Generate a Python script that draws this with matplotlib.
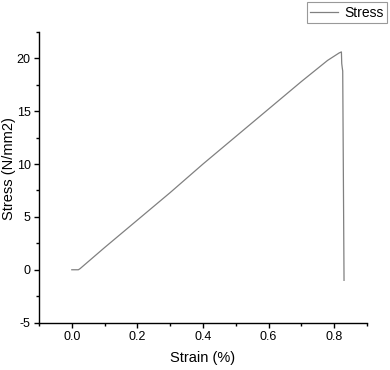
import matplotlib
matplotlib.use("Agg")
import matplotlib.pyplot as plt
from matplotlib.ticker import MultipleLocator

strain = [0.0, 0.01, 0.02, 0.025, 0.1, 0.2, 0.3, 0.4, 0.5, 0.6, 0.7, 0.78, 0.815, 0.822, 0.823, 0.825, 0.826, 0.83]
stress = [0.0, 0.0, 0.0, 0.1, 2.1, 4.7, 7.3, 10.0, 12.6, 15.2, 17.8, 19.8, 20.5, 20.6, 19.5, 19.0, 18.8, -1.0]
xticks = [0.0, 0.2, 0.4, 0.6, 0.8]
xticklabels = ['0.0', '0.2', '0.4', '0.6', '0.8']
yticks = [-5, 0, 5, 10, 15, 20]
yticklabels = ['-5', '0', '5', '10', '15', '20']

plt.rcParams['font.family'] = ['Liberation Sans', 'DejaVu Sans']
fig = plt.figure(figsize=(3.9, 3.7), dpi=100)
ax = fig.add_axes([0.1, 0.128, 0.841, 0.786])
ax.plot(strain, stress, color='#808080', lw=0.9, label='Stress')
ax.set_xlim(-0.1, 0.9)
ax.set_ylim(-5, 22.5)
ax.xaxis.set_minor_locator(MultipleLocator(0.1))
ax.yaxis.set_minor_locator(MultipleLocator(2.5))
ax.set_xticks(xticks)
ax.set_xticklabels(xticklabels)
ax.set_yticks(yticks)
ax.set_yticklabels(yticklabels)
for s in ['top', 'right']:
    ax.spines[s].set_visible(False)
for s in ['left', 'bottom']:
    ax.spines[s].set_linewidth(1.0)
ax.tick_params(which='major', direction='out', length=3.5, width=1, labelsize=9, pad=2.5)
ax.tick_params(which='minor', direction='out', length=2, width=1)
ax.set_xlabel('Strain (%)', fontsize=10.5, labelpad=6)
ax.set_ylabel('Stress (N/mm2)', fontsize=10.5)
ax.yaxis.set_label_coords(-0.07, 0.53)
leg = fig.legend(loc='upper right', bbox_to_anchor=(0.996, 0.998), fontsize=10,
                 frameon=True, fancybox=False, edgecolor='#808080', handlelength=2.0,
                 borderpad=0.25, handletextpad=0.45, borderaxespad=0.1)
leg.get_frame().set_linewidth(0.8)
fig.savefig('out.png', dpi=100)
